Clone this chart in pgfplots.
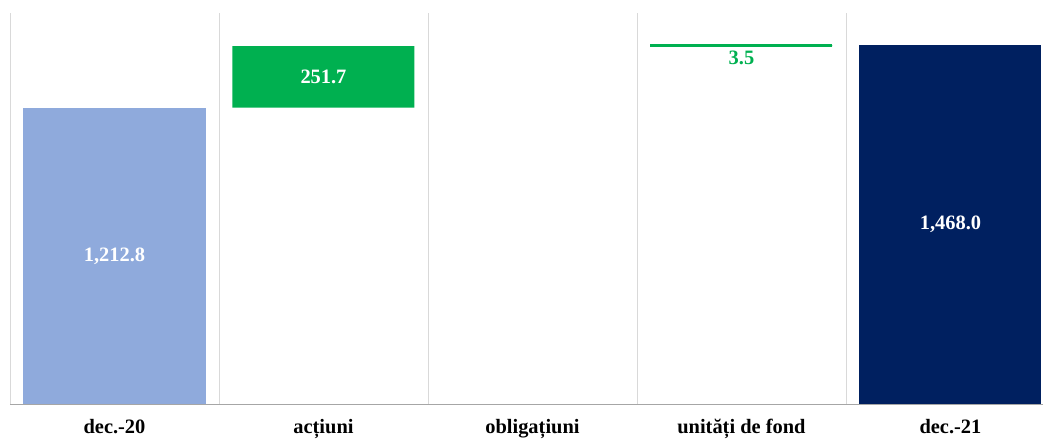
\documentclass[border=0pt]{standalone}
\usepackage{pgfplots}
\pgfplotsset{compat=1.18}
\usepackage{fontspec}
\setmainfont{Liberation Serif}
\definecolor{cblue}{HTML}{8FAADC}
\definecolor{cgreen}{HTML}{00B050}
\definecolor{cnavy}{HTML}{002060}
\definecolor{cgrid}{HTML}{D9D9D9}
\definecolor{caxis}{HTML}{A6A6A6}
\begin{document}
\begin{tikzpicture}
\begin{axis}[
  scale only axis,
  width=1033bp, height=391bp,
  ybar stacked,
  bar width=0.871,
  xmin=-0.5, xmax=4.443,
  ymin=0, ymax=1600,
  axis x line*=bottom,
  axis y line=none,
  x axis line style={draw=caxis, line width=0.8pt},
  xtick={0,1,2,3,4},
  xticklabels={dec.-20, acțiuni, obligațiuni, unități de fond, dec.-21},
  major x tick style={draw=none},
  tick align=outside,
  extra x ticks={-0.5,0.5,1.5,2.5,3.5},
  extra x tick labels={},
  extra x tick style={grid=major, major grid style={draw=cgrid, line width=0.8pt},
     major tick length=6bp, tick style={draw=caxis, line width=0.8pt}},
  xticklabel style={font=\fontsize{20.5}{24}\selectfont\bfseries, text height=14bp, text depth=0bp, inner ysep=1bp, yshift=-9.8bp},
  clip=false,
]
\addplot[draw=none, fill=none] coordinates {(0,0) (1,1212.8) (2,1464.5) (3,1464.5) (4,0)};
\addplot[draw=none, fill=cblue] coordinates {(0,1212.8) (1,0) (2,0) (3,0) (4,0)};
\addplot[draw=none, fill=cgreen] coordinates {(0,0) (1,251.7) (2,0) (3,3.5) (4,0)};
\addplot[draw=none, fill=cnavy] coordinates {(0,0) (1,0) (2,0) (3,0) (4,1468.0)};
\addplot[/pgfplots/stack plots=false, sharp plot, mark=none, draw=cgreen, line width=2.7bp, forget plot] coordinates {(2.5645,1466.25) (3.4355,1466.25)};
\coordinate (L0) at (axis cs:0,606.4);
\coordinate (L1) at (axis cs:1,1338.65);
\coordinate (L3) at (axis cs:3,1416);
\coordinate (L4) at (axis cs:4,734);
\end{axis}
\node[text=white, font=\fontsize{20.5}{24}\selectfont\bfseries] at (L0) {1,212.8};
\node[text=white, font=\fontsize{20.5}{24}\selectfont\bfseries] at (L1) {251.7};
\node[text=cgreen, font=\fontsize{20.5}{24}\selectfont\bfseries] at (L3) {3.5};
\node[text=white, font=\fontsize{20.5}{24}\selectfont\bfseries] at (L4) {1,468.0};
\pgfresetboundingbox
\path ([xshift=-10bp,yshift=-35bp]current axis.south west) rectangle ([yshift=13bp]current axis.north east);
\end{tikzpicture}
\end{document}
